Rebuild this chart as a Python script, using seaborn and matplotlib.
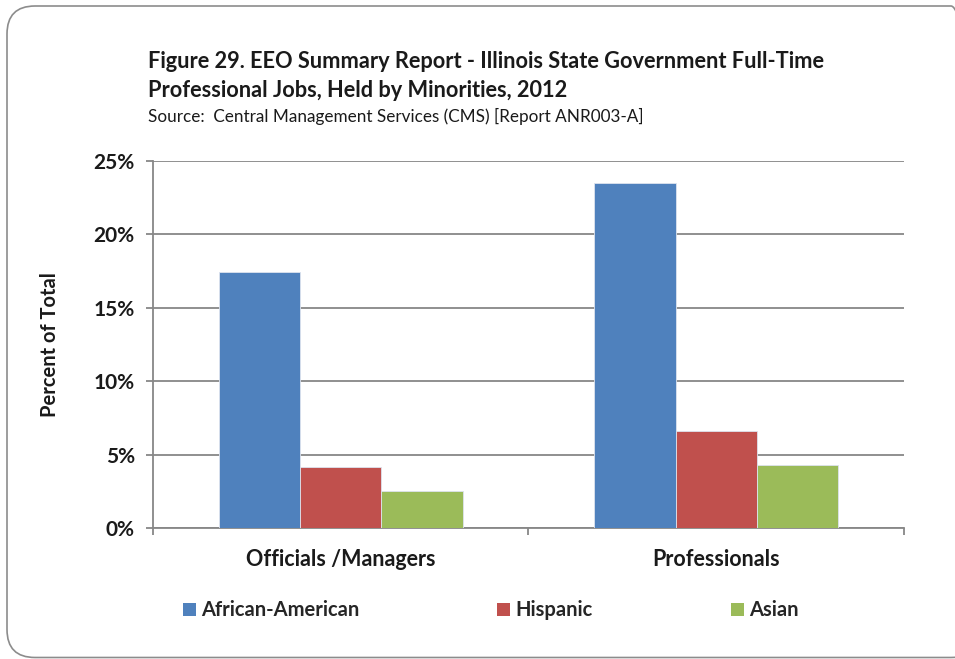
import pandas as pd
import matplotlib
matplotlib.use("Agg")
import matplotlib.pyplot as plt
from matplotlib.patches import FancyBboxPatch, Patch
from matplotlib.ticker import PercentFormatter
import seaborn as sns

categories = ["Officials /Managers", "Professionals"]
groups = ["African-American", "Hispanic", "Asian"]
african_american = [17.4, 23.5]
hispanic = [4.15, 6.6]
asian = [2.55, 4.3]
colors = ["#4f81bd", "#c0504d", "#9bbb59"]
y_ticks = [0, 5, 10, 15, 20, 25]


def main():
    rows = []
    for grp, vals in zip(groups, [african_american, hispanic, asian]):
        for cat, v in zip(categories, vals):
            rows.append({"Category": cat, "Group": grp, "Percent": v})
    df = pd.DataFrame(rows)

    sns.set_theme(style="white")
    plt.rcParams["font.family"] = ["Lato", "DejaVu Sans"]
    grid_col = "#878787"
    txt = "#1a1a1a"

    fig = plt.figure(figsize=(9.55, 6.59), dpi=100)

    # background axes in pixel units for the rounded outer frame;
    # the right side sits past the edge, only its top bend shows
    bg = fig.add_axes([0, 0, 1, 1], zorder=-1)
    bg.set_xlim(0, 955)
    bg.set_ylim(0, 659)
    bg.axis("off")
    bg.add_patch(FancyBboxPatch((7, 1.5), 972, 651.5,
                                boxstyle="round,pad=0,rounding_size=28",
                                fill=False, edgecolor="#8c8c8c",
                                linewidth=1.2, clip_on=True))

    ax = fig.add_axes([0.160, 0.1983, 0.7866, 0.5578])
    ax.patch.set_alpha(0)

    sns.barplot(data=df, x="Category", y="Percent", hue="Group",
                palette=colors, width=0.65, gap=0, saturation=1,
                edgecolor="#dde3ee", linewidth=0.6, ax=ax, legend=False,
                zorder=3)

    ax.set_ylim(0, 25)
    ax.set_xlim(-0.5, 1.5)
    ax.set_yticks(y_ticks)
    ax.yaxis.set_major_formatter(PercentFormatter(decimals=0))
    ax.yaxis.grid(True, color=grid_col, linewidth=1.3, zorder=0)
    ax.set_axisbelow(True)

    for s in ["top", "right"]:
        ax.spines[s].set_visible(False)
    for s in ["left", "bottom"]:
        ax.spines[s].set_color(grid_col)
        ax.spines[s].set_linewidth(1.3)

    ax.tick_params(axis="y", direction="out", length=5, width=1.3,
                   color=grid_col, left=True, labelsize=15, pad=8)
    ax.set_xticks([-0.5, 0.5, 1.5])
    ax.set_xticklabels(["", "", ""])
    ax.tick_params(axis="x", direction="out", length=5, width=1.3,
                   color=grid_col, bottom=True)
    for i, cat in enumerate(categories):
        ax.text(i, -2.15, cat, ha="center", va="center", fontsize=15.5,
                fontweight="bold", color=txt)
    for lbl in ax.get_yticklabels():
        lbl.set_fontweight("bold")
        lbl.set_color(txt)

    ax.set_xlabel("")
    ax.set_ylabel("Percent of Total", fontsize=14.5, fontweight="bold",
                  color=txt, labelpad=24)

    fig.text(0.155, 0.906, "Figure 29. EEO Summary Report - Illinois State Government Full-Time",
             fontsize=15.7, fontweight="bold", color=txt, va="center")
    fig.text(0.155, 0.863, "Professional Jobs, Held by Minorities, 2012",
             fontsize=15.7, fontweight="bold", color=txt, va="center")
    fig.text(0.155, 0.823, "Source:  Central Management Services (CMS) [Report ANR003-A]",
             fontsize=12.3, color=txt, va="center")

    handles = [Patch(facecolor=c, edgecolor="none") for c in colors]
    fig.legend(handles, groups, loc="center left",
               bbox_to_anchor=(0.1916, 0.0736), ncol=3, frameon=False,
               prop={"weight": "bold", "size": 14.5},
               handlelength=0.65, handleheight=0.65, handletextpad=0.25,
               columnspacing=6.85, borderaxespad=0, borderpad=0)

    fig.savefig("out.png", dpi=100)


if __name__ == "__main__":
    main()
